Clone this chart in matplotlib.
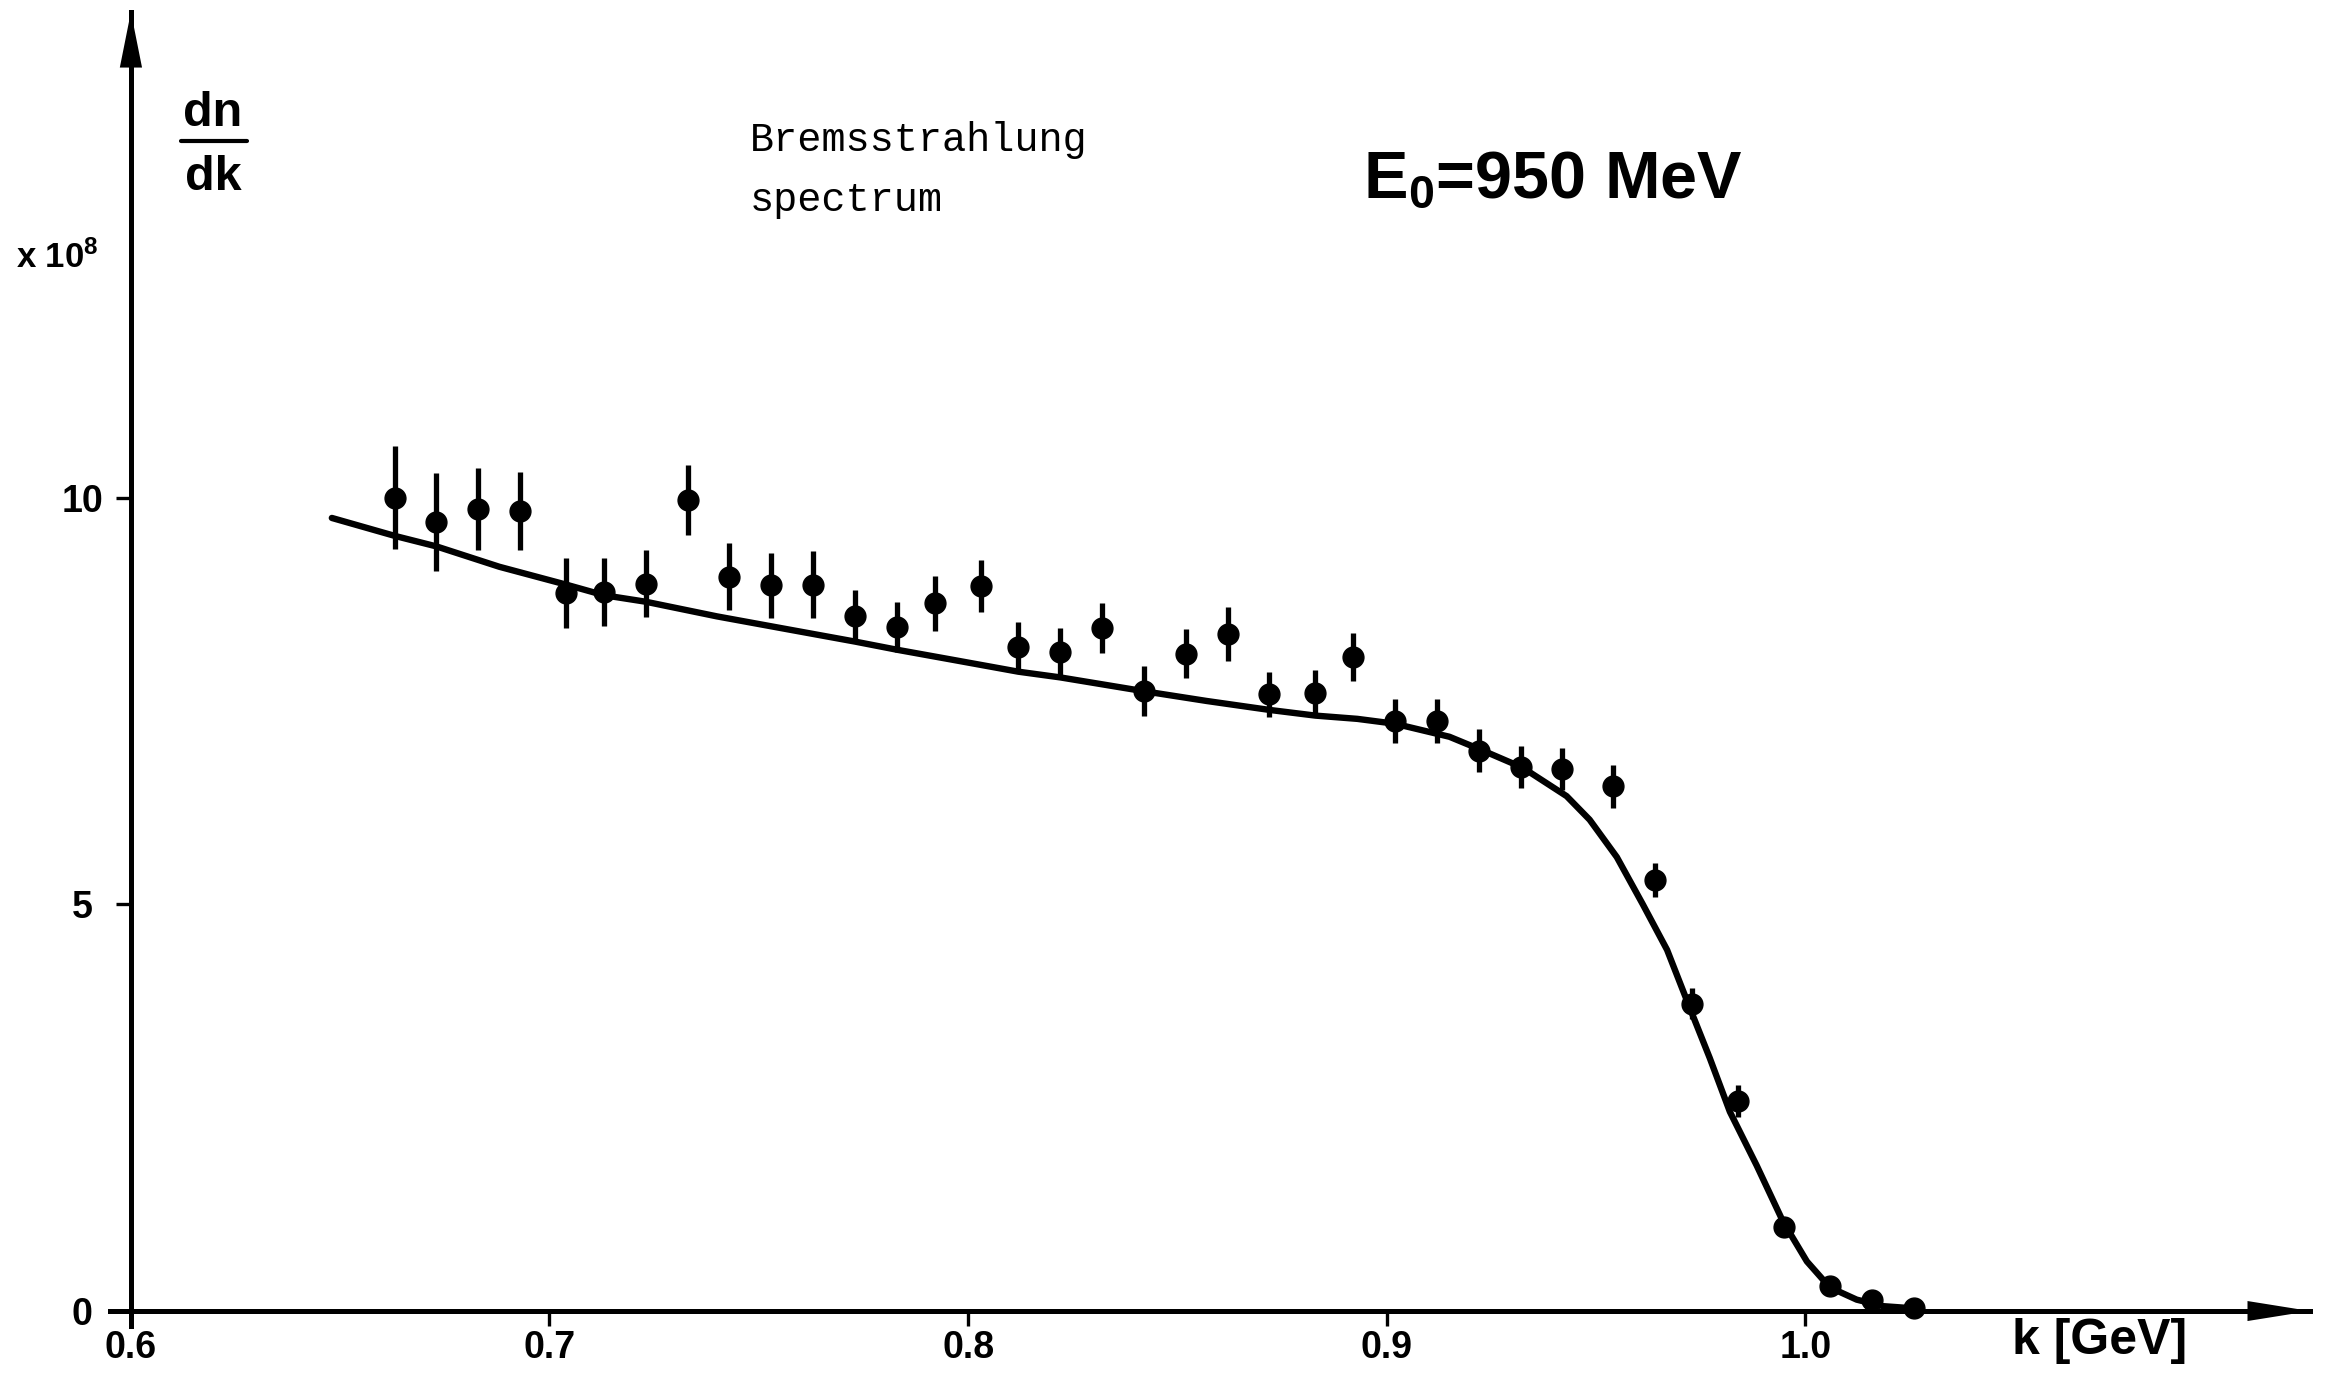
import numpy as np
import matplotlib
matplotlib.use('Agg')
import matplotlib.pyplot as plt
from matplotlib.lines import Line2D

# measured points: photon energy k (GeV), dn/dk (x 10^8) and error
k_pts = [0.663, 0.673, 0.683, 0.693, 0.704, 0.713, 0.723, 0.733, 0.743,
         0.753, 0.763, 0.773, 0.783, 0.792, 0.803, 0.812, 0.822, 0.832,
         0.842, 0.852, 0.862, 0.872, 0.883, 0.892, 0.902, 0.912, 0.922,
         0.932, 0.942, 0.954, 0.964, 0.973, 0.984, 0.995, 1.006, 1.016,
         1.026]
dndk_pts = [10.00, 9.70, 9.86, 9.84, 8.83, 8.84, 8.94, 9.97, 9.03, 8.92,
            8.93, 8.55, 8.41, 8.70, 8.91, 8.16, 8.10, 8.40, 7.62, 8.08,
            8.32, 7.58, 7.60, 8.04, 7.25, 7.25, 6.89, 6.69, 6.66, 6.45,
            5.30, 3.78, 2.58, 1.03, 0.31, 0.14, 0.04]
err_pts = [0.63, 0.60, 0.51, 0.48, 0.43, 0.42, 0.41, 0.43, 0.41, 0.40,
           0.41, 0.32, 0.31, 0.34, 0.32, 0.31, 0.30, 0.31, 0.31, 0.30,
           0.33, 0.28, 0.28, 0.30, 0.27, 0.27, 0.26, 0.26, 0.26, 0.26,
           0.21, 0.19, 0.20, 0.12, 0.08, 0.06, 0.05]

# calculated spectrum (solid curve)
k_curve = [0.648, 0.663, 0.673, 0.688, 0.704, 0.713, 0.723, 0.740, 0.757,
           0.773, 0.783, 0.797, 0.812, 0.822, 0.842, 0.857, 0.872, 0.883,
           0.893, 0.902, 0.915, 0.923, 0.9325, 0.943, 0.9485, 0.955,
           0.9612, 0.967, 0.9724, 0.9772, 0.982, 0.9884, 0.9947, 1.0004,
           1.0059, 1.0123, 1.0186, 1.0267]
dndk_curve = [9.75, 9.53, 9.40, 9.15, 8.93, 8.80, 8.72, 8.54, 8.38, 8.23,
              8.13, 8.00, 7.86, 7.79, 7.62, 7.50, 7.39, 7.32, 7.28, 7.22,
              7.06, 6.89, 6.68, 6.33, 6.04, 5.58, 5.00, 4.44, 3.73, 3.11,
              2.45, 1.79, 1.10, 0.61, 0.29, 0.14, 0.06, 0.03]

x_ticks = [0.6, 0.7, 0.8, 0.9, 1.0]
x_ticklabels = ['0.6', '0.7', '0.8', '0.9', '1.0']
y_ticks = [0, 5, 10]
y_ticklabels = ['0', '5', '10']

W, H = 2328, 1380
BOLD = ['Liberation Sans', 'DejaVu Sans']
MONO = ['Liberation Mono', 'DejaVu Sans Mono']

plt.rcParams['font.family'] = BOLD
plt.rcParams['font.weight'] = 'bold'
plt.rcParams['mathtext.fontset'] = 'custom'
plt.rcParams['mathtext.rm'] = 'Liberation Sans:bold'
plt.rcParams['mathtext.it'] = 'Liberation Sans:bold'
plt.rcParams['mathtext.bf'] = 'Liberation Sans:bold'


def px(x, y):
    """full-size pixel position -> figure fraction"""
    return x / W, 1 - y / H


fig = plt.figure(figsize=(W / 100, H / 100), dpi=100)
ax = fig.add_axes([110 / W, 1 - 1326 / H, (2310 - 110) / W, (1326 - 12) / H])

ax.plot(k_curve, dndk_curve, color='black', lw=4.6, solid_capstyle='round',
        solid_joinstyle='round', zorder=3)
ax.errorbar(k_pts, dndk_pts, yerr=err_pts, fmt='o', color='black', ms=15,
            elinewidth=3.8, capsize=0, zorder=4)

ax.set_xlim(0.595, 1.1206)
ax.set_ylim(-0.184, 15.97)
for side in ['top', 'right']:
    ax.spines[side].set_visible(False)
ax.spines['left'].set_position(('data', 0.6))
ax.spines['bottom'].set_position(('data', 0))
for side in ['left', 'bottom']:
    ax.spines[side].set_linewidth(3.6)

ax.set_xticks(x_ticks)
ax.set_xticklabels(x_ticklabels)
ax.set_yticks(y_ticks)
ax.set_yticklabels(y_ticklabels, ha='center')
ax.tick_params(axis='x', direction='out', length=11, width=2.4, pad=3,
               labelsize=27)
ax.tick_params(axis='y', direction='out', length=11, width=2.4, pad=24,
               labelsize=27)

# arrow heads on the axes
ax.annotate('', xy=(1, 0), xycoords=('axes fraction', 'data'),
            xytext=(0.97, 0), textcoords=('axes fraction', 'data'),
            arrowprops=dict(arrowstyle='-|>,head_length=4.5,head_width=0.72',
                            lw=0, fc='black', ec='black', mutation_scale=10,
                            shrinkA=0, shrinkB=0))
ax.annotate('', xy=(0.6, 1), xycoords=('data', 'axes fraction'),
            xytext=(0.6, 0.96), textcoords=('data', 'axes fraction'),
            arrowprops=dict(arrowstyle='-|>,head_length=4.0,head_width=0.8',
                            lw=0, fc='black', ec='black', mutation_scale=10,
                            shrinkA=0, shrinkB=0))

# labels
fig.text(*px(213, 126), 'dn', fontsize=35, ha='center', va='baseline')
fig.text(*px(213, 190), 'dk', fontsize=35, ha='center', va='baseline')
fig.add_artist(Line2D([181 / W, 247 / W], [1 - 141 / H, 1 - 141 / H],
                      color='black', lw=3, solid_capstyle='round'))
fig.text(*px(16, 268), r'x 10$^{8}$', fontsize=25, ha='left', va='baseline')

fig.text(*px(750, 151), 'Bremsstrahlung', family=MONO, fontweight='normal',
         fontsize=29, ha='left', va='baseline')
fig.text(*px(750, 211), 'spectrum', family=MONO, fontweight='normal',
         fontsize=29, ha='left', va='baseline')
fig.text(*px(1363, 197), r'E$_{0}$=950 MeV', fontsize=48, ha='left',
         va='baseline')
fig.text(*px(2012, 1354), 'k [GeV]', fontsize=36, ha='left', va='baseline')

fig.savefig('out.png', dpi=100)
